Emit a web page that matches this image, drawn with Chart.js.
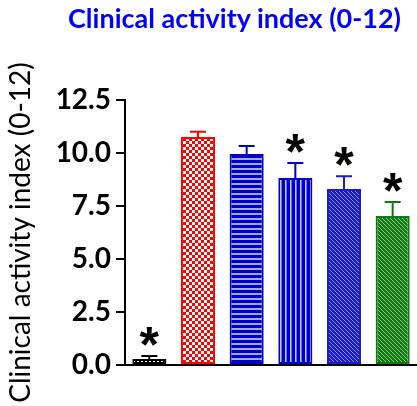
<!DOCTYPE html>
<html>
<head>
<meta charset="utf-8">
<script src="https://cdn.jsdelivr.net/npm/chart.js@4"></script>
<style>
  html, body { margin: 0; padding: 0; background: #fff; }
  #wrap { position: relative; width: 417px; height: 406px; overflow: hidden; }
  #title { position: absolute; left: 68px; top: 1px; font: bold 27px Lato; color: #0000ff; white-space: nowrap; }
  canvas { position: absolute; left: 0; top: 0; }
</style>
</head>
<body>
<div id="wrap">
  <canvas id="chart" width="417" height="406"></canvas>
  <div id="title">Clinical activity index (0-12)</div>
</div>
<script>
const groups = ["Group 1", "Group 2", "Group 3", "Group 4", "Group 5", "Group 6"];
const means = [0.28, 10.75, 9.95, 8.82, 8.3, 7.03];
const sems = [0.14, 0.25, 0.38, 0.71, 0.6, 0.66];
const starred = [true, false, false, true, true, true];
const yTicks = [0, 2.5, 5, 7.5, 10, 12.5];
const barColors = ["#000000", "#ff0000", "#0000cc", "#0000cc", "#1a1acc", "#0f7a0f"];

function pattern(w, h, draw) {
  const c = document.createElement("canvas");
  c.width = w; c.height = h;
  const g = c.getContext("2d");
  draw(g);
  return g.createPattern(c, "repeat");
}

const fills = [
  // black with white dots
  pattern(4, 4, (g) => { g.fillStyle = "#000"; g.fillRect(0, 0, 4, 4); g.fillStyle = "#fff"; g.fillRect(1, 1, 2, 2); }),
  // red checkerboard
  pattern(6, 6, (g) => { g.fillStyle = "#ff0000"; g.fillRect(0, 0, 6, 6); g.fillStyle = "#fff"; g.fillRect(0, 0, 3, 3); g.fillRect(3, 3, 3, 3); }),
  // blue horizontal stripes
  pattern(1, 5, (g) => { g.fillStyle = "#0000cc"; g.fillRect(0, 0, 1, 5); g.fillStyle = "#a4aae8"; g.fillRect(0, 3, 1, 2); }),
  // blue vertical stripes
  pattern(5, 1, (g) => { g.fillStyle = "#0000cc"; g.fillRect(0, 0, 5, 1); g.fillStyle = "#c4c8f4"; g.fillRect(0, 0, 1, 1); g.fillStyle = "#6a70dc"; g.fillRect(1, 0, 1, 1); }),
  // blue diagonal hatch
  pattern(4, 4, (g) => { g.fillStyle = "#1a1acc"; g.fillRect(0, 0, 4, 4); g.fillStyle = "#8e94ea"; for (let i = 0; i < 4; i++) g.fillRect(i, i, 1, 1); }),
  // green diagonal hatch
  pattern(4, 4, (g) => { g.fillStyle = "#0f7a0f"; g.fillRect(0, 0, 4, 4); g.fillStyle = "#8fc48f"; for (let i = 0; i < 4; i++) g.fillRect(i, i, 1, 1); })
];

const errorBars = {
  id: "errorBars",
  afterDatasetsDraw(chart) {
    const ctx = chart.ctx;
    const y = chart.scales.y;
    const meta = chart.getDatasetMeta(0);
    ctx.save();
    meta.data.forEach((bar, i) => {
      const top = y.getPixelForValue(means[i] + sems[i]);
      ctx.strokeStyle = barColors[i];
      ctx.lineWidth = 2;
      ctx.beginPath();
      ctx.moveTo(bar.x, bar.y);
      ctx.lineTo(bar.x, top);
      ctx.moveTo(bar.x - 8, top);
      ctx.lineTo(bar.x + 8, top);
      ctx.stroke();
      if (starred[i]) {
        ctx.fillStyle = "#000";
        ctx.font = "bold 50px 'Liberation Sans'";
        ctx.textAlign = "center";
        ctx.textBaseline = "alphabetic";
        const m = ctx.measureText("*");
        ctx.fillText("*", bar.x, top - 10 - m.actualBoundingBoxDescent);
      }
    });
    ctx.restore();
  }
};

new Chart(document.getElementById("chart"), {
  type: "bar",
  data: {
    labels: groups,
    datasets: [{
      data: means,
      backgroundColor: fills,
      borderColor: barColors,
      borderWidth: 2,
      borderSkipped: false,
      barPercentage: 0.7,
      categoryPercentage: 1
    }]
  },
  options: {
    responsive: false,
    animation: false,
    layout: { padding: { top: 100, right: 0, bottom: 41, left: 0 } },
    plugins: { legend: { display: false }, tooltip: { enabled: false } },
    scales: {
      x: {
        grid: { display: false, drawTicks: false },
        border: { color: "#000", width: 2 },
        ticks: { display: false }
      },
      y: {
        min: 0,
        max: 12.5,
        afterBuildTicks: (s) => { s.ticks = yTicks.map((v) => ({ value: v })); },
        afterFit: (s) => { s.width = 125; },
        ticks: {
          font: { family: "Lato", size: 28, weight: "bold" },
          color: "#000",
          padding: 5,
          callback: (v) => Number(v).toFixed(1)
        },
        grid: { drawOnChartArea: false, tickLength: 9, color: "#000", lineWidth: 2 },
        border: { color: "#000", width: 2 },
        title: {
          display: true,
          text: "Clinical activity index (0-12)",
          font: { family: "Lato", size: 28 },
          color: "#000",
          padding: { top: 4, bottom: 0 }
        }
      }
    }
  },
  plugins: [errorBars]
});
</script>
</body>
</html>
